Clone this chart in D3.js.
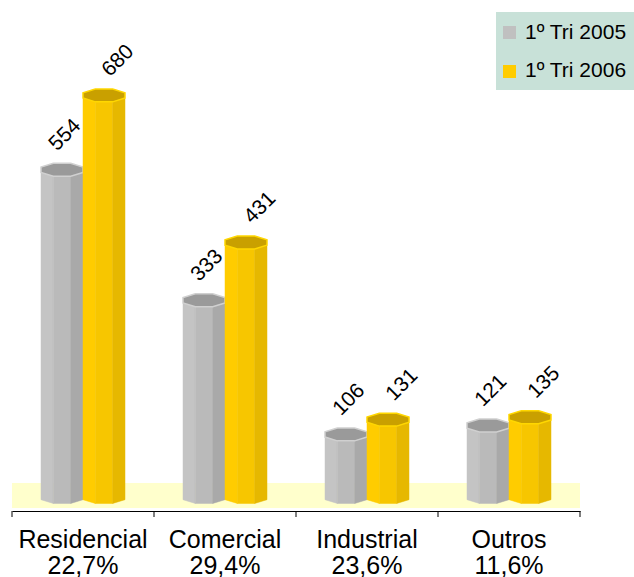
<!DOCTYPE html>
<html>
<head>
<meta charset="utf-8">
<script src="https://cdn.jsdelivr.net/npm/d3@7"></script>
<style>
  body { margin: 0; background: #fff; }
  text { font-family: "Liberation Sans", Arial, sans-serif; fill: #000; }
</style>
</head>
<body>
<svg id="chart"></svg>
<script>
// chart data
const categories = ['Residencial', 'Comercial', 'Industrial', 'Outros'];
const shares = ['22,7%', '29,4%', '23,6%', '11,6%'];
const seriesNames = ['1º Tri 2005', '1º Tri 2006'];
const values2005 = [554, 333, 106, 121];
const values2006 = [680, 431, 131, 135];

const width = 634, height = 577;
const margin = { left: 12, right: 54 };

const svg = d3.select('#chart')
    .attr('width', width)
    .attr('height', height);

// scales
const xScale = d3.scaleBand()
    .domain(categories)
    .range([margin.left, width - margin.right]);

const xInner = d3.scaleBand()
    .domain(seriesNames)
    .range([0, 84])
    .paddingInner(0);

const yScale = d3.scaleLinear()
    .domain([0, 700])
    .range([497, 497 - 700 * 0.5906]);

// bar styles per series (label offset differs a bit per series, like the original)
const styles = [
    { faces: ['#c4c4c4', '#bababa', '#a9a9a9'], top: '#9a9a9a', rim: '#d0d0d0', labelDx: 16 },
    { faces: ['#ffcc00', '#f7c600', '#e6b800'], top: '#c9a000', rim: '#ffd700', labelDx: 27 }
];

// floor
svg.append('rect')
    .attr('x', margin.left)
    .attr('y', 483)
    .attr('width', xScale.range()[1] - margin.left)
    .attr('height', 25)
    .attr('fill', '#ffffcc');

// axis
const xAxis = d3.axisBottom(xScale)
    .tickSize(0)
    .tickFormat('');
const axisG = svg.append('g')
    .attr('transform', 'translate(0,511)')
    .call(xAxis);
axisG.select('.domain').attr('stroke', '#000');
// category boundary ticks
const bounds = categories.map(c => xScale(c)).concat([xScale.range()[1]]);
axisG.selectAll('.bound')
    .data(bounds)
    .join('line')
    .attr('x1', d => d).attr('x2', d => d)
    .attr('y1', 0).attr('y2', 6)
    .attr('stroke', '#000');

// category labels
const labelG = svg.append('g');
labelG.selectAll('.cat')
    .data(categories)
    .join('text')
    .attr('x', d => xScale(d) + xScale.bandwidth() / 2)
    .attr('y', 548)
    .attr('text-anchor', 'middle')
    .attr('font-size', 25)
    .text(d => d);
labelG.selectAll('.share')
    .data(shares)
    .join('text')
    .attr('x', (d, i) => xScale(categories[i]) + xScale.bandwidth() / 2)
    .attr('y', 574)
    .attr('text-anchor', 'middle')
    .attr('font-size', 25)
    .text(d => d);

// octagonal cylinder helper
const ry = 7;
const angles = d3.range(8).map(k => (22.5 + 45 * k) * Math.PI / 180);

function drawBar(g, x0, w, value, style) {
    const r = w / (2 * Math.cos(angles[0]));
    const cx = x0 + w / 2;
    const yTop = yScale(value);
    const yBot = yScale(0);
    const pt = (a, y) => [cx + r * Math.cos(a), y + ry * Math.sin(a)];

    // front faces: left, middle, right
    const faces = [
        { a1: angles[2], a2: angles[3], fill: style.faces[0] },
        { a1: angles[1], a2: angles[2], fill: style.faces[1] },
        { a1: angles[0], a2: angles[1], fill: style.faces[2] }
    ];
    // left and right vertical edge strips
    g.append('polygon')
        .attr('points', [pt(angles[3], yTop), pt(angles[4], yTop), pt(angles[4], yBot), pt(angles[3], yBot)].join(' '))
        .attr('fill', style.faces[0]);
    g.append('polygon')
        .attr('points', [pt(angles[7], yTop), pt(angles[0], yTop), pt(angles[0], yBot), pt(angles[7], yBot)].join(' '))
        .attr('fill', style.faces[2]);
    faces.forEach(f => {
        g.append('polygon')
            .attr('points', [pt(f.a1, yTop), pt(f.a2, yTop), pt(f.a2, yBot), pt(f.a1, yBot)].join(' '))
            .attr('fill', f.fill)
            .attr('stroke', f.fill)
            .attr('stroke-width', 0.5);
    });
    // top cap
    g.append('polygon')
        .attr('points', angles.map(a => pt(a, yTop)).join(' '))
        .attr('fill', style.top)
        .attr('stroke', style.rim)
        .attr('stroke-width', 1.5);
}

const data = categories.map((c, i) => ({ cat: c, vals: [values2005[i], values2006[i]] }));
const barsG = svg.append('g');
const labelsG = svg.append('g');
data.forEach(d => {
    const groupX = xScale(d.cat) + xScale.bandwidth() / 2 - 42;
    d.vals.forEach((v, j) => {
        const x0 = groupX + xInner(seriesNames[j]);
        drawBar(barsG, x0, xInner.bandwidth(), v, styles[j]);
        // rotated value label
        const lx = x0 + styles[j].labelDx, ly = yScale(v) - 18;
        labelsG.append('text')
            .attr('transform', `translate(${lx},${ly}) rotate(-45)`)
            .attr('font-size', 21)
            .text(v);
    });
});

// legend
const legend = svg.append('g');
legend.append('rect')
    .attr('x', 496).attr('y', 12)
    .attr('width', 138).attr('height', 78)
    .attr('fill', '#c8e1d8');
const legendColors = ['#c0c0c0', '#ffcc00'];
seriesNames.forEach((s, i) => {
    legend.append('rect')
        .attr('x', 503).attr('y', 26 + i * 39)
        .attr('width', 13).attr('height', 13)
        .attr('fill', legendColors[i]);
    legend.append('text')
        .attr('x', 525).attr('y', 39 + i * 38)
        .attr('font-size', 21)
        .text(s);
});
</script>
</body>
</html>
